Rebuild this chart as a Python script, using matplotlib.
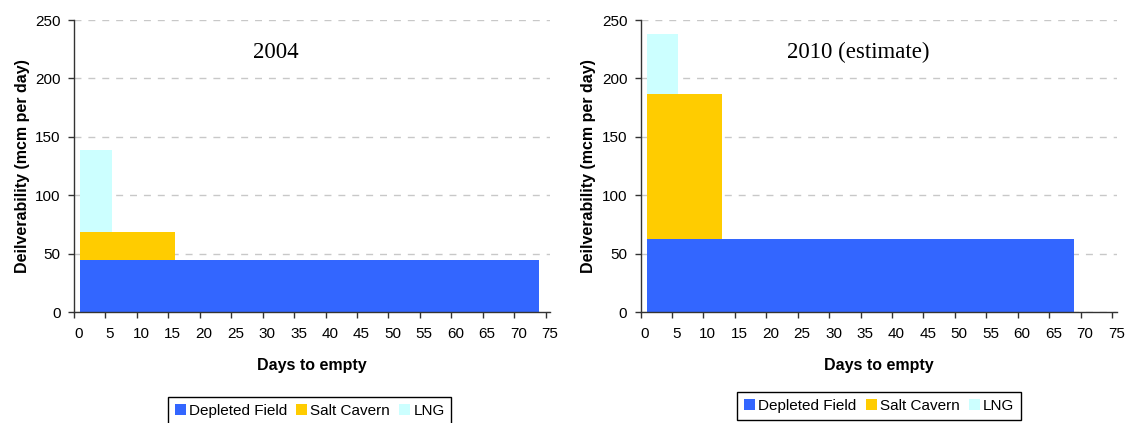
import matplotlib
matplotlib.use("Agg")
import matplotlib.pyplot as plt
from matplotlib.patches import Patch
import numpy as np

plt.rcParams['font.family'] = ['Liberation Sans', 'DejaVu Sans']

# Storage deliverability by type, stacked, with the day on which each type runs empty
panel_titles = ['2004', '2010 (estimate)']
series_names = ['Depleted Field', 'Salt Cavern', 'LNG']
series_colors = ['#3366FF', '#FFCC00', '#CCFFFF']

start_day = 1
depleted_rate = [44.5, 62.5]    # mcm per day
depleted_end = [74, 69]         # days to empty
salt_rate = [23.8, 124.0]
salt_end = [16, 13]
lng_rate = [70.0, 51.5]
lng_end = [6, 6]

x_ticks = list(range(0, 76, 5))
y_ticks = list(range(0, 251, 50))

fig = plt.figure(figsize=(11.25, 4.23), dpi=100)
W, H = 1125.0, 423.0

axes_px = [(74, 312, 476, 292), (640.5, 312, 476, 292)]
title_x = [0.4248, 0.457]
legend_anchor = [(309.7, 397.3), (879.2, 392.3)]

for i in range(2):
    left, bottom, width, height = axes_px[i]
    ax = fig.add_axes([left / W, 1 - bottom / H, width / W, height / H])

    rates = [depleted_rate[i], salt_rate[i], lng_rate[i]]
    ends = [depleted_end[i], salt_end[i], lng_end[i]]
    base = 0.0
    for rate, end, color in zip(rates, ends, series_colors):
        ax.bar(start_day, rate, width=end - start_day, bottom=base,
               align='edge', color=color, linewidth=0, zorder=2)
        base += rate

    ax.set_xlim(0, 75.7)
    ax.set_ylim(0, 250)

    # tick marks at the round days, labels nudged a little to the right
    ax.set_xticks(x_ticks)
    ax.set_xticklabels([])
    ax.set_xticks([t + 0.7 for t in x_ticks], minor=True)
    ax.set_xticklabels([str(t) for t in x_ticks], minor=True)
    ax.tick_params(axis='x', which='major', direction='out', length=4,
                   width=1, color='#333333')
    ax.tick_params(axis='x', which='minor', length=0, pad=10.5,
                   labelsize=11, labelcolor='black')

    ax.set_yticks(y_ticks)
    ax.tick_params(axis='y', direction='out', length=4, width=1,
                   color='#333333', pad=5.5, labelsize=11)

    ax.yaxis.grid(True, color='#C8C8C8', linestyle=(0, (5, 5)), linewidth=1)
    ax.set_axisbelow(True)

    for side in ('top', 'right'):
        ax.spines[side].set_visible(False)
    for side in ('left', 'bottom'):
        ax.spines[side].set_color('#333333')
        ax.spines[side].set_linewidth(1.0)

    ax.set_xlabel('Days to empty', fontsize=11.5, fontweight='bold')
    ax.xaxis.set_label_coords(0.5, -0.158)
    ax.set_ylabel('Deilverability (mcm per day)', fontsize=11.5, fontweight='bold')
    ax.yaxis.set_label_coords(-0.093, 0.5)

    ax.text(title_x[i], 0.871, panel_titles[i], transform=ax.transAxes,
            ha='center', va='baseline', fontsize=16.5,
            family=['Liberation Serif', 'DejaVu Serif'])

    handles = [Patch(facecolor=c, edgecolor='none', label=n)
               for n, c in zip(series_names, series_colors)]
    lx, ly = legend_anchor[i]
    leg = fig.legend(handles=handles, loc='upper center',
                     bbox_to_anchor=(lx / W, 1 - ly / H), ncol=3,
                     fontsize=11, frameon=True, fancybox=False,
                     edgecolor='black', framealpha=1, borderaxespad=0,
                     handlelength=0.72, handleheight=0.72, handletextpad=0.2,
                     columnspacing=0.6, borderpad=0.45)
    leg.get_frame().set_linewidth(1.0)

fig.savefig('out.png', dpi=100)
